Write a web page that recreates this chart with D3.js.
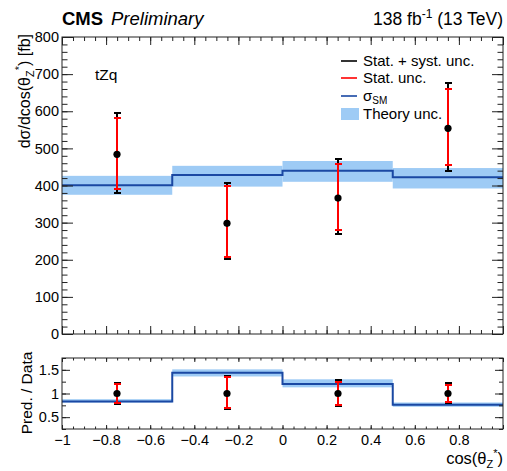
<!DOCTYPE html>
<html><head><meta charset="utf-8">
<script src="https://cdn.jsdelivr.net/npm/d3@7"></script>
<style>body{margin:0;background:#fff}svg{display:block}text{font-family:"Liberation Sans",Arial,Helvetica,sans-serif}</style>
</head><body><svg id="c" width="507" height="471"></svg>
<script>
// ---- data ----
const binEdges   = [-1, -0.5, 0, 0.5, 1];
const binCenters = [-0.75, -0.25, 0.25, 0.75];
const dataVals   = [484, 298, 366, 554];
const totUp      = [594, 406, 471, 675];
const totDown    = [379, 201, 269, 440];
const statUp     = [581, 399, 457, 659];
const statDown   = [391, 208, 280, 455];
const smVals     = [401, 428, 440, 422];
const smUp       = [426, 453, 466, 447];
const smDown     = [375, 397, 410, 392];
const ratioBandUp   = [0.88, 1.51, 1.30, 0.81];
const ratioBandDown = [0.81, 1.36, 1.13, 0.72];
const yMainTicks  = [0,100,200,300,400,500,600,700,800];
const yRatioTicks = [0.5,1,1.5];
const xTicks      = [-1,-0.8,-0.6,-0.4,-0.2,0,0.2,0.4,0.6,0.8];

const svg = d3.select("#c");
const L = 62, R = 503;
const x = d3.scaleLinear().domain([-1,1]).range([L,R]);
const y = d3.scaleLinear().domain([0,800]).range([334,37]);
const yr = d3.scaleLinear().domain([0.25,1.75]).range([429,358]);
const fmt = v => (v<0 ? "\u2212" : "") + Math.abs(v);

const bandColor = "#9ecbf5", lineColor = "#1a48a3", frameColor = "#222";

function drawFrame(ys, xMajorLen, xMinorLen, yMajorLen, yMinorLen, yMajor, yMinor, showXLabels) {
  const [y0, y1] = ys.range();
  const g = svg.append("g");
  const xMinor = d3.range(-1, 1.0001, 0.05).map(v => +v.toFixed(2));
  const xMajor = d3.range(-1, 1.0001, 0.2).map(v => +v.toFixed(2));
  const mk = (axis, tr) => { const a = g.append("g").attr("transform", tr).call(axis); a.select(".domain").remove(); a.selectAll("line").attr("stroke", frameColor); return a; };
  mk(d3.axisBottom(x).tickValues(xMinor).tickSize(-xMinorLen).tickFormat(""), `translate(0,${y0})`);
  const xb = mk(d3.axisBottom(x).tickValues(xMajor).tickSize(-xMajorLen).tickPadding(6).tickFormat(showXLabels ? fmt : ""), `translate(0,${y0})`);
  xb.selectAll("text").attr("font-size", 14.5).attr("fill", "#000");
  xb.selectAll(".tick").filter(d => d === 1).select("text").remove();
  mk(d3.axisTop(x).tickValues(xMinor).tickSize(-xMinorLen).tickFormat(""), `translate(0,${y1})`);
  mk(d3.axisTop(x).tickValues(xMajor).tickSize(-xMajorLen).tickFormat(""), `translate(0,${y1})`);
  mk(d3.axisLeft(ys).tickValues(yMinor).tickSize(-yMinorLen).tickFormat(""), `translate(${L},0)`);
  const yl = mk(d3.axisLeft(ys).tickValues(yMajor).tickSize(-yMajorLen).tickPadding(3).tickFormat(d => d), `translate(${L},0)`);
  yl.selectAll("text").attr("font-size", 14.5).attr("fill", "#000");
  mk(d3.axisRight(ys).tickValues(yMinor).tickSize(-yMinorLen).tickFormat(""), `translate(${R},0)`);
  mk(d3.axisRight(ys).tickValues(yMajor).tickSize(-yMajorLen).tickFormat(""), `translate(${R},0)`);
  g.append("rect").attr("x", L).attr("y", y1).attr("width", R-L).attr("height", y0-y1)
    .attr("fill", "none").attr("stroke", frameColor).attr("stroke-width", 1);
}

function stepPath(vals, ys) {
  let p = "";
  vals.forEach((v, i) => {
    const xa = x(binEdges[i]), xb = x(binEdges[i+1]), yy = ys(v);
    p += (i === 0 ? `M${xa},${yy}` : `L${xa},${yy}`) + `L${xb},${yy}`;
  });
  return p;
}

function errBar(g, xc, yTop, yBot, color, w, capW) {
  xc = Math.round(xc);
  g.append("line").attr("x1", xc).attr("x2", xc).attr("y1", yTop).attr("y2", yBot).attr("stroke", color).attr("stroke-width", w).attr("shape-rendering", "crispEdges");
  [yTop, yBot].forEach(yy => g.append("line").attr("x1", xc-capW).attr("x2", xc+capW).attr("y1", Math.round(yy)).attr("y2", Math.round(yy)).attr("stroke", color).attr("stroke-width", w).attr("shape-rendering", "crispEdges"));
}

// ---- main panel ----
const gm = svg.append("g");
gm.selectAll("rect.band").data(binCenters).enter().append("rect")
  .attr("x", (d,i) => x(binEdges[i])).attr("width", (d,i) => x(binEdges[i+1]) - x(binEdges[i]))
  .attr("y", (d,i) => y(smUp[i])).attr("height", (d,i) => y(smDown[i]) - y(smUp[i]))
  .attr("fill", bandColor);
gm.append("path").attr("d", stepPath(smVals, y)).attr("fill", "none").attr("stroke", lineColor).attr("stroke-width", 2);
binCenters.forEach((c, i) => {
  errBar(gm, x(c), y(totUp[i]), y(totDown[i]), "#000", 2, 3.5);
  errBar(gm, x(c), y(statUp[i]), y(statDown[i]), "#ff0000", 2, 3.5);
  gm.append("circle").attr("cx", Math.round(x(c))).attr("cy", y(dataVals[i])).attr("r", 3.6).attr("fill", "#000");
});
drawFrame(y, 8, 4, 11, 5.5, yMainTicks, d3.range(0, 801, 20), false);

// ---- ratio panel ----
const gr = svg.append("g");
gr.selectAll("rect.band").data(binCenters).enter().append("rect")
  .attr("x", (d,i) => x(binEdges[i])).attr("width", (d,i) => x(binEdges[i+1]) - x(binEdges[i]))
  .attr("y", (d,i) => yr(ratioBandUp[i])).attr("height", (d,i) => yr(ratioBandDown[i]) - yr(ratioBandUp[i]))
  .attr("fill", bandColor);
const ratioVals = smVals.map((v,i) => v / dataVals[i]);
gr.append("path").attr("d", stepPath(ratioVals, yr)).attr("fill", "none").attr("stroke", lineColor).attr("stroke-width", 2);
binCenters.forEach((c, i) => {
  const d = dataVals[i];
  errBar(gr, x(c), yr(totUp[i]/d), yr(totDown[i]/d), "#000", 2.5, 3.5);
  errBar(gr, x(c), yr(statUp[i]/d), yr(statDown[i]/d), "#ff0000", 2, 3.5);
  gr.append("circle").attr("cx", Math.round(x(c))).attr("cy", yr(1)).attr("r", 3.6).attr("fill", "#000");
});
drawFrame(yr, 4, 2.5, 8, 4, yRatioTicks, [0.25,0.5,0.75,1,1.25,1.5,1.75], true);

// ---- texts ----
svg.append("text").attr("x", 62).attr("y", 25).attr("font-size", 18.5).attr("font-weight", "bold").text("CMS");
svg.append("text").attr("x", 111).attr("y", 25).attr("font-size", 18.5).attr("font-style", "italic").text("Preliminary");
const lumi = svg.append("text").attr("x", 503).attr("y", 25).attr("font-size", 17.5).attr("text-anchor", "end");
lumi.append("tspan").text("138 fb");
lumi.append("tspan").attr("dy", -7).attr("font-size", 12).text("-1");
lumi.append("tspan").attr("dy", 7).text(" (13 TeV)");

svg.append("text").attr("x", 95).attr("y", 80).attr("font-size", 15.5).text("tZq");

const yt = svg.append("text").attr("transform", "translate(30,34) rotate(-90)").attr("text-anchor", "end").attr("font-size", 16);
yt.append("tspan").text("d\u03c3/dcos(\u03b8");
yt.append("tspan").attr("dy", 4).attr("font-size", 11).text("Z");
yt.append("tspan").attr("dy", -11).attr("font-size", 11).text("*");
yt.append("tspan").attr("dy", 7).text(") [fb]");

svg.append("text").attr("transform", "translate(32,393) rotate(-90)").attr("text-anchor", "middle").attr("font-size", 15.5).text("Pred. / Data");

const xt = svg.append("text").attr("x", 503).attr("y", 464).attr("text-anchor", "end").attr("font-size", 16.5);
xt.append("tspan").text("cos(\u03b8");
xt.append("tspan").attr("dy", 4).attr("font-size", 11).text("Z");
xt.append("tspan").attr("dy", -11).attr("font-size", 11).text("*");
xt.append("tspan").attr("dy", 7).text(")");

// ---- legend ----
const lg = svg.append("g");
const legItems = [
  {label: "Stat. + syst. unc.", type: "line", color: "#000", y: 61},
  {label: "Stat. unc.", type: "line", color: "#ff0000", y: 78},
  {label: "\u03c3", sub: "SM", type: "line", color: lineColor, y: 96},
  {label: "Theory unc.", type: "box", color: bandColor, y: 114}
];
legItems.forEach(it => {
  if (it.type === "line") lg.append("line").attr("x1", 341).attr("x2", 357).attr("y1", it.y).attr("y2", it.y).attr("stroke", it.color).attr("stroke-width", 1.6);
  else lg.append("rect").attr("x", 341).attr("y", it.y-6).attr("width", 18).attr("height", 12).attr("fill", it.color);
  const t = lg.append("text").attr("x", 363).attr("y", it.y + 5).attr("font-size", 15);
  t.append("tspan").text(it.label);
  if (it.sub) t.append("tspan").attr("dy", 2.5).attr("font-size", 10).text(it.sub);
});
</script></body></html>
